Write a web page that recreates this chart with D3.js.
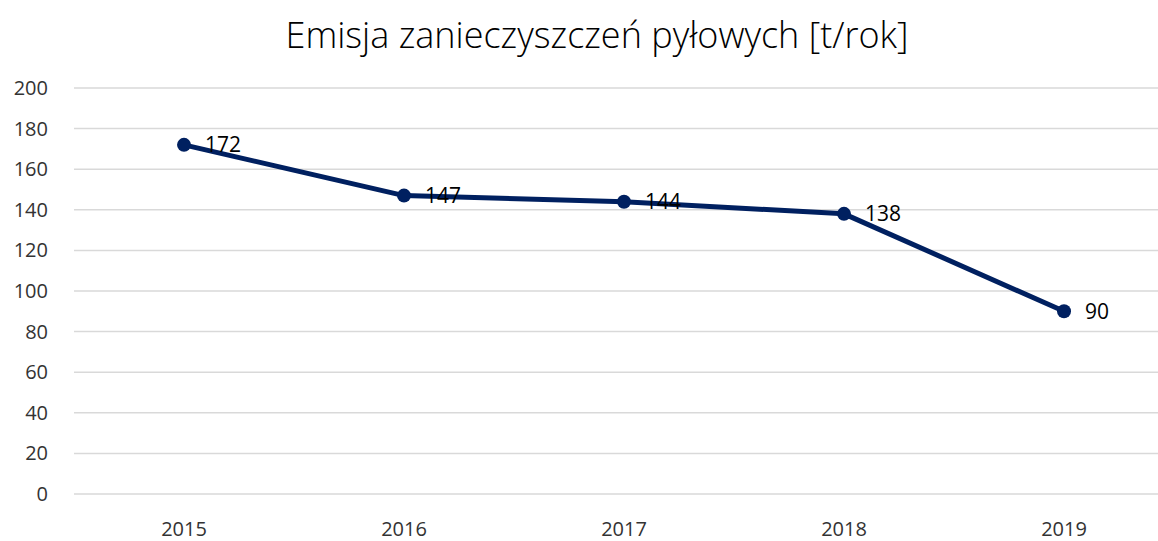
<!DOCTYPE html>
<html>
<head>
<meta charset="utf-8">
<script src="https://cdn.jsdelivr.net/npm/d3@7"></script>
<style>
  body { margin: 0; background: #fff; }
  svg { display: block; font-family: "Open Sans", "Noto Sans", sans-serif; }
</style>
</head>
<body>
<div id="chart"></div>
<script>
// data
var years = ["2015", "2016", "2017", "2018", "2019"];
var emissions = [172, 147, 144, 138, 90];
var yTicks = [0, 20, 40, 60, 80, 100, 120, 140, 160, 180, 200];
var title = "Emisja zanieczyszczeń pyłowych [t/rok]";

var W = 1158, H = 541;
var plotLeft = 74, plotRight = 1174, plotTop = 88, plotBottom = 494;

var svg = d3.select("#chart")
  .append("svg")
  .attr("width", W)
  .attr("height", H);

var x = d3.scaleBand()
  .domain(years)
  .range([plotLeft, plotRight]);

var y = d3.scaleLinear()
  .domain([0, 200])
  .range([plotBottom, plotTop]);

// gridlines
svg.append("g")
  .selectAll("line")
  .data(yTicks)
  .enter()
  .append("line")
  .attr("x1", plotLeft)
  .attr("x2", W)
  .attr("y1", d => y(d))
  .attr("y2", d => y(d))
  .attr("stroke", "#d9d9d9")
  .attr("stroke-width", 1.5);

// y labels
svg.append("g")
  .selectAll("text")
  .data(yTicks)
  .enter()
  .append("text")
  .attr("x", 48)
  .attr("y", d => y(d))
  .attr("dy", "0.35em")
  .attr("text-anchor", "end")
  .style("font-size", "20px")
  .style("fill", "#333")
  .text(d => d);

// x labels
svg.append("g")
  .selectAll("text")
  .data(years)
  .enter()
  .append("text")
  .attr("x", d => x(d) + x.bandwidth() / 2)
  .attr("y", 529)
  .attr("dy", "0.35em")
  .attr("text-anchor", "middle")
  .style("font-size", "20px")
  .style("fill", "#333")
  .text(d => d);

var pts = years.map((d, i) => ({ year: d, v: emissions[i] }));

var line = d3.line()
  .x(d => x(d.year) + x.bandwidth() / 2)
  .y(d => y(d.v));

svg.append("path")
  .datum(pts)
  .attr("d", line)
  .attr("fill", "none")
  .attr("stroke", "#002060")
  .attr("stroke-width", 5)
  .attr("stroke-linejoin", "round");

svg.append("g")
  .selectAll("circle")
  .data(pts)
  .enter()
  .append("circle")
  .attr("cx", d => x(d.year) + x.bandwidth() / 2)
  .attr("cy", d => y(d.v))
  .attr("r", 7)
  .attr("fill", "#002060");

// value labels
svg.append("g")
  .selectAll("text")
  .data(pts)
  .enter()
  .append("text")
  .attr("x", d => x(d.year) + x.bandwidth() / 2 + 21)
  .attr("y", d => y(d.v))
  .attr("dy", "0.36em")
  .style("font-size", "21px")
  .style("fill", "#000")
  .text(d => d.v);

// title
svg.append("text")
  .attr("x", 597)
  .attr("y", 48)
  .attr("text-anchor", "middle")
  .style("font-size", "36px")
  .style("font-weight", 300)
  .style("fill", "#000")
  .text(title);
</script>
</body>
</html>
